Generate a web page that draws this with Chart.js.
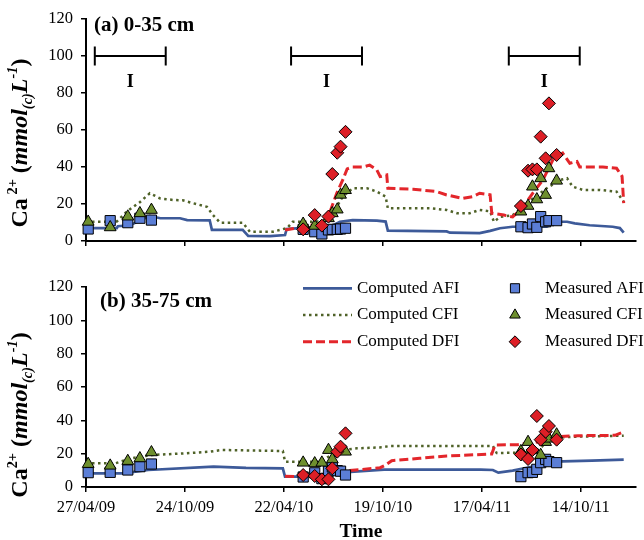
<!DOCTYPE html>
<html><head><meta charset="utf-8">
<script src="https://cdn.jsdelivr.net/npm/chart.js@4.4.1/dist/chart.umd.min.js"></script>
<style>
html,body{margin:0;padding:0;background:#fff;}
#wrap{position:relative;width:644px;height:540px;overflow:hidden;}
.box{position:absolute;left:0;width:644px;}
</style></head><body>
<div id="wrap">
<div class="box" style="top:0;height:260px"><canvas id="ca" width="644" height="260"></canvas></div>
<div class="box" style="top:260px;height:280px"><canvas id="cb" width="644" height="280"></canvas></div>
</div>
<script>
// ---------------- DATA ----------------
// x values are days since 27/04/2009
const tickLabels = ["27/04/09","24/10/09","22/04/10","19/10/10","17/04/11","14/10/11"];
const tickStepDays = 180;

// irrigation periods (I), days
const irrigStart = [16, 373, 769];
const irrigEnd   = [145, 502, 898];
const irrigLabel = "I";

// measurement dates (days)
const measDays = [4,44,76,98,119, 395,416,429,441,448,457,463,472, 791,804,812,820,827,836,842,856];

// (a) 0-35 cm measured
const aMeasAFI = [6.5,11,9.9,12.3,11.3, 6.3,5,3.8,6,6.3,6.3,6.5,6.9, 7.7,7.2,9.2,7.4,13.2,10.4,11,11];
const aMeasCFI = [10.4,7.4,13.2,15,16.8, 9.3,8.2,null,12.3,15,17,25,27.5, 15.9,19,29.4,22.5,33.9,24.9,39.3,32.6];
const aMeasDFI = [null,null,null,null,null, 6.3,14,8.3,13.2,36.2,47.7,51,59, 18.9,38,38.7,38.7,56.4,44.7,74.4,46.5];

// (a) 0-35 cm computed
const aAfiDay = [0,56,58,80,98,116,125,135,171,184,225,229,285,295,335,362,365,389,444,462,485,529,545,549,656,662,716,735,753,776,838,856,875,889,916,958,971,978];
const aAfiVal = [7,7,8,8.5,11,13.5,13,12.3,12.3,11.3,11.2,6,6,2.8,2.6,3.2,6.5,7,7.7,10.4,11.3,11,10.5,5.6,5.2,4.5,4.3,5.5,6.9,7.7,7.7,10.4,10.4,9.5,8.5,7.7,7,4.5];
const aCfiDay = [0,56,74,98,116,135,158,176,195,220,231,244,285,298,340,366,376,431,449,467,485,511,529,545,549,625,656,675,698,716,735,742,753,776,794,813,838,862,875,885,904,935,965,978];
const aCfiVal = [10.4,10.5,15.9,21,25.8,23,22.2,22,20.4,18.5,14,9.9,9.9,5,5,7,10.4,10.5,15,24,28.5,28.5,26.7,24,17.7,17.7,16.8,15,15,16.8,16,10.4,13,13.9,18.5,23,28.5,33,33.9,29.4,27.6,27.6,26.7,21.2];
const aDfiDay = [362,382,431,444,456,467,475,485,504,516,529,535,547,549,595,638,656,685,704,716,735,738,760,776,794,813,831,849,867,880,893,898,916,940,965,975,978];
const aDfiVal = [6,7,9.7,16,25.8,33,39,40,40,41,38.4,34.8,35.7,28.5,28,26.7,24.9,23,24,25.8,25,15,14,13,18,26,33,43.8,47.5,42,43,40,40,40,39.3,35,20.5];

// (b) 35-75 cm measured
const bMeasAFI = [8.6,8.8,10.2,12.2,13.8, 6,8.5,5,9.5,12,9.8,9.5,7.2, 6.2,8.6,8.8,10.6,14.6,16.6,15.2,14.6];
const bMeasCFI = [13.8,12.8,15.6,17.2,20.8, 14.6,14.2,14.6,22.2,16.6,null,23.5,21.2, 21.5,27,22,null,19.2,27,29,31.5];
const bMeasDFI = [null,null,null,null,null, 7.2,6.6,4.6,4.6,11.2,21.2,24.2,32.2, 19.5,16.8,22.2,42.6,28.4,33.2,36.6,28.4];

// (b) 35-75 cm computed
const bAfiDay = [0,67,113,232,291,358,362,396,441,542,718,740,750,776,813,836,849,920,978];
const bAfiVal = [8.2,8.2,10.2,12.2,11.5,11.2,6.2,6.2,8.2,10.4,10.4,10.2,8.6,9.8,12.2,14.5,15.2,15.8,16.4];
const bCfiDay = [0,53,82,120,180,225,247,358,362,424,440,467,493,538,553,740,747,784,815,829,844,889,978];
const bCfiVal = [14.2,14.2,17.2,19.2,20.2,21.2,22.2,21.6,15.2,15.2,18,22.2,23.2,23.8,24.6,24.6,20.4,20.6,21.2,24.2,29.2,30.2,30.8];
const bDfiDay = [362,396,430,467,511,535,545,556,607,656,738,744,785,827,845,895,962,978];
const bDfiVal = [6.5,6.2,7,9.5,10.8,11.6,13.2,15.8,17.2,18.6,19.8,25.2,25.4,27.2,30,30.8,31,33];

const seriesNames = ["Computed AFI","Computed CFI","Computed DFI","Measured AFI","Measured CFI","Measured DFI"];

// ---------------- STYLE ----------------
const SERIF = '"Liberation Serif", "Times New Roman", Times, serif';
const C_AFI_L = '#3D5A99', C_CFI_L = '#4F6228', C_DFI_L = '#E3262B';
const C_AFI_P = '#5B7ED6', C_CFI_P = '#6E8F2E', C_DFI_P = '#DD1F26';

function pts(days, vals){ const o=[]; for(let i=0;i<days.length;i++){ if(vals[i]!==null && vals[i]!==undefined) o.push({x:days[i],y:vals[i]}); } return o; }

function datasets(afiD, afiV, cfiD, cfiV, dfiD, dfiV, mA, mC, mD){
  const line = (label, d, v, col, w, dash, ord) => ({label, data: pts(d,v), showLine:true, pointRadius:0, borderColor:col, backgroundColor:col, borderWidth:w, borderDash:dash, borderCapStyle:'butt', tension:0, order:ord, clip:false});
  const mk = (label, v, style, r, col, ord) => ({label, data: pts(measDays, v), showLine:false, pointStyle:style, pointRadius:r, pointBackgroundColor:col, pointBorderColor:'#000', pointBorderWidth:1, backgroundColor:col, borderColor:'#000', order:ord, clip:false});
  return [
    line(seriesNames[0], afiD, afiV, C_AFI_L, 2.7, [], 5),
    line(seriesNames[1], cfiD, cfiV, C_CFI_L, 2.5, [2.5,3.5], 4),
    line(seriesNames[2], dfiD, dfiV, C_DFI_L, 3, [9,4], 3),
    mk(seriesNames[3], mA, 'rect', 7.2, C_AFI_P, 2),
    mk(seriesNames[4], mC, 'triangle', 6.8, C_CFI_P, 1),
    mk(seriesNames[5], mD, 'rectRot', 6.5, C_DFI_P, 0)
  ];
}

function drawYTitle(ctx, bx, cy, gap){
  const size = 24;
  const segs = [
    {t:'Ca', f:'bold', s:1, dy:0},
    {t:gap ? ' ' : '', f:'bold', s:0.6, dy:0},
    {t:'2+', f:'bold', s:0.6, dy:-0.4},
    {t:' (', f:'bold', s:1, dy:0},
    {t:'mmol', f:'italic bold', s:1, dy:0},
    {t:'(c)', f:'italic bold', s:0.6, dy:0.22},
    {t:'L', f:'italic bold', s:1, dy:0},
    {t:'-1', f:'italic bold', s:0.6, dy:-0.4},
    {t:')', f:'bold', s:1, dy:0}
  ];
  ctx.save();
  let total = 0;
  segs.forEach(g => { ctx.font = g.f+' '+(size*g.s)+'px '+SERIF; g.w = ctx.measureText(g.t).width; total += g.w; });
  ctx.translate(bx, cy);
  ctx.rotate(-Math.PI/2);
  ctx.fillStyle = '#000';
  ctx.textBaseline = 'alphabetic';
  ctx.textAlign = 'left';
  let x = -total/2;
  segs.forEach(g => { ctx.font = g.f+' '+(size*g.s)+'px '+SERIF; if (g.t) ctx.fillText(g.t, x, g.dy*size); x += g.w; });
  ctx.restore();
}

const decoPlugin = {
  id: 'deco',
  afterDraw(chart, args, o){
    const ctx = chart.ctx;
    ctx.save();
    ctx.fillStyle = '#000';
    ctx.font = 'bold 21px '+SERIF;
    ctx.textBaseline = 'middle';
    ctx.textAlign = 'left';
    ctx.fillText(o.title, o.titleX, o.titleY);
    ctx.restore();
    drawYTitle(ctx, o.yTitleX, o.yTitleY, o.yGap);
    if (o.brackets){
      const xs = chart.scales.x, ys = chart.scales.y;
      ctx.save();
      ctx.strokeStyle = '#000'; ctx.lineWidth = 2; ctx.fillStyle = '#000';
      ctx.font = 'bold 18px '+SERIF; ctx.textAlign='center'; ctx.textBaseline='middle';
      const yb = ys.getPixelForValue(o.bracketLevel);
      const yl = ys.getPixelForValue(o.labelLevel);
      for (let i=0;i<irrigStart.length;i++){
        const x0 = xs.getPixelForValue(irrigStart[i]), x1 = xs.getPixelForValue(irrigEnd[i]);
        ctx.beginPath();
        ctx.moveTo(x0, yb); ctx.lineTo(x1, yb);
        ctx.moveTo(x0, yb-9.5); ctx.lineTo(x0, yb+9.5);
        ctx.moveTo(x1, yb-9.5); ctx.lineTo(x1, yb+9.5);
        ctx.stroke();
        ctx.fillText(irrigLabel, (x0+x1)/2, yl);
      }
      ctx.restore();
    }
    if (o.legend){
      const ds = chart.data.datasets;
      ctx.save();
      ctx.font = '17px '+SERIF; ctx.textBaseline='middle'; ctx.textAlign='left'; 
      for (let i=0;i<3;i++){
        const y = o.legendY + i*26.7;
        const l = ds[i];
        ctx.save();
        ctx.strokeStyle = l.borderColor; ctx.lineWidth = l.borderWidth; ctx.setLineDash(l.borderDash);
        ctx.beginPath(); ctx.moveTo(303, y); ctx.lineTo(352, y); ctx.stroke();
        ctx.restore();
        ctx.fillStyle = '#000';
        ctx.fillText(l.label, 357, y);
        const m = ds[i+3];
        ctx.save();
        ctx.fillStyle = m.pointBackgroundColor; ctx.strokeStyle = '#000'; ctx.lineWidth = 1;
        Chart.helpers.drawPoint(ctx, {pointStyle:m.pointStyle, radius:m.pointRadius*0.9, rotation:0, borderWidth:1}, 515, y);
        ctx.restore();
        ctx.fillStyle = '#000';
        ctx.fillText(m.label, 545, y);
      }
      ctx.restore();
    }
  }
};

function options(xHeight, padTop, showXLabels, deco){
  return {
    responsive:false, animation:false, events:[],
    layout:{padding:{left:0, right:8, top:padTop, bottom:0}},
    plugins:{ legend:{display:false}, tooltip:{enabled:false}, deco },
    scales:{
      x:{
        type:'linear', min:0, max:1000,
        afterBuildTicks(axis){ axis.ticks = tickLabels.map((_,i)=>({value:i*tickStepDays})); },
        afterFit(axis){ axis.height = xHeight; },
        grid:{display:true, drawOnChartArea:false, drawTicks:true, tickLength:5, color:'#000', tickColor:'#000', lineWidth:1.5},
        border:{display:true, color:'#000', width:2},
        ticks:{display:showXLabels, padding:6, color:'#000', maxRotation:0, autoSkip:false,
          font:{family:SERIF, size:16.5},
          callback:(v)=>tickLabels[Math.round(v/tickStepDays)]},
        title:{display:showXLabels, text:'Time', color:'#000', padding:{top:0,bottom:0}, font:{family:SERIF, size:19.5, weight:'bold', lineHeight:0.85}}
      },
      y:{
        min:0, max:120,
        afterFit(axis){ axis.width = 86; },
        grid:{display:true, drawOnChartArea:false, drawTicks:true, tickLength:5, color:'#000', tickColor:'#000', lineWidth:1.5},
        border:{display:true, color:'#000', width:2},
        ticks:{stepSize:20, padding:8, color:'#000', font:{family:SERIF, size:16.5}}
      }
    }
  };
}

new Chart(document.getElementById('ca'), {
  type:'scatter',
  data:{ datasets: datasets(aAfiDay,aAfiVal,aCfiDay,aCfiVal,aDfiDay,aDfiVal,aMeasAFI,aMeasCFI,aMeasDFI) },
  options: options(19, 19, false, {title:'(a) 0-35 cm', titleX:94, titleY:25.5, yTitleX:27, yTitleY:143, yGap:true, brackets:true, bracketLevel:100, labelLevel:86}),
  plugins:[decoPlugin]
});

new Chart(document.getElementById('cb'), {
  type:'scatter',
  data:{ datasets: datasets(bAfiDay,bAfiVal,bCfiDay,bCfiVal,bDfiDay,bDfiVal,bMeasAFI,bMeasCFI,bMeasDFI) },
  options: options(53, 27, true, {title:'(b) 35-75 cm', titleX:100, titleY:42, yTitleX:27, yTitleY:155, yGap:false, legend:true, legendY:28.3}),
  plugins:[decoPlugin]
});
</script>
</body></html>
